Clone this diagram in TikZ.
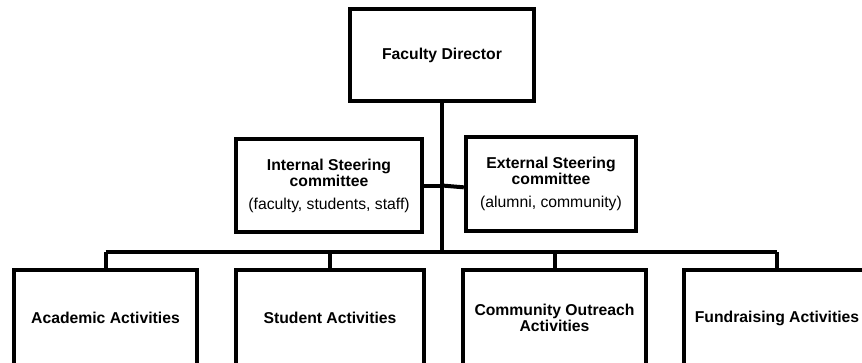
\documentclass[tikz,border=0pt]{standalone}
\usepackage{fontspec}
\setmainfont{Liberation Sans}
\begin{document}
\begin{tikzpicture}[x=0.75pt,y=-0.75pt,
  box/.style={draw, line width=3.3pt, rectangle, align=center, inner sep=0pt,
    font=\fontsize{11.8}{10.8}\selectfont\bfseries},
  conn/.style={line width=3pt}]
\useasboundingbox (0,0) rectangle (862,362);
\begin{scope}
\clip (0,0) rectangle (862,362);
\node[box, minimum width=138pt, minimum height=69pt] (fd) at (442,55) {Faculty Director};
\node[box, minimum width=139.5pt, minimum height=69.75pt] (int) at (329,185.5)
  {\raisebox{-2pt}{Internal Steering}\\\raisebox{-2pt}{committee}\\[6.5pt]\raisebox{-2pt}{\mdseries (faculty, students, staff)}};
\node[box, minimum width=127.5pt, minimum height=70.5pt] (ext) at (551,184)
  {\raisebox{-2pt}{External Steering}\\\raisebox{-2pt}{committee}\\[6.5pt]\raisebox{-2pt}{\mdseries (alumni, community)}};
\node[box, minimum width=137.25pt, minimum height=72pt] (aa) at (105.5,318) {Academic Activities};
\node[box, minimum width=141pt, minimum height=72pt] (sa) at (330,318) {Student Activities};
\node[box, minimum width=137.25pt, minimum height=72pt, font=\fontsize{11.8}{11.5}\selectfont\bfseries] (ca) at (554.5,318) {Community Outreach\\Activities};
\node[box, minimum width=139.5pt, minimum height=72pt] (fr) at (777,318) {Fundraising Activities};
\coordinate (busL) at (105.5,252);
\coordinate (busR) at (777,252);
\coordinate (j) at (fd.south |- int.east);
\draw[conn] (fd.south) -- (fd.south |- busL);
\draw[conn] (busL) -- (busR);
\draw[conn] (int.east) -- (j);
\draw[conn] (j) -- ([yshift=-2.5pt]ext.west);
\draw[conn] (busL) -- (aa.north);
\draw[conn] (sa.north |- busL) -- (sa.north);
\draw[conn] (ca.north |- busL) -- (ca.north);
\draw[conn] (busR) -- (fr.north);
\end{scope}
\end{tikzpicture}
\end{document}
